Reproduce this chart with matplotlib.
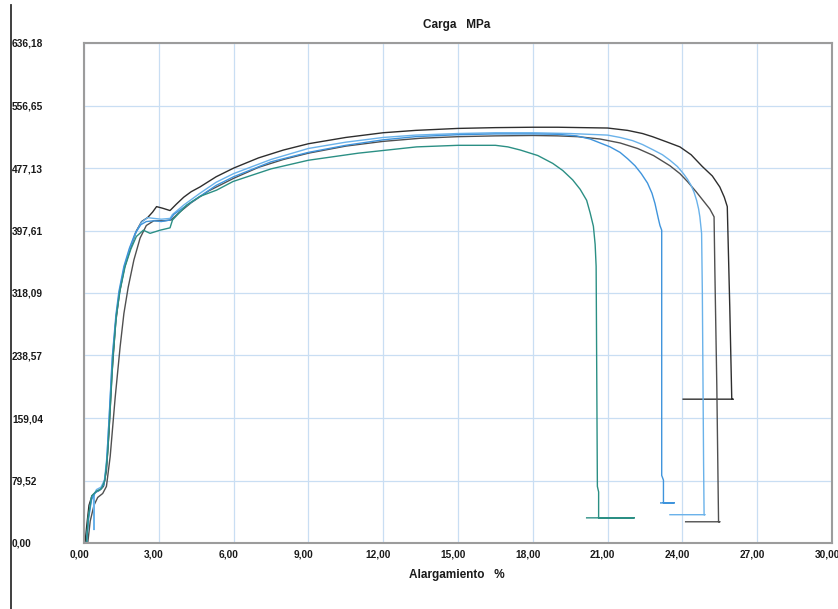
import matplotlib
matplotlib.use("Agg")
import matplotlib.pyplot as plt
from matplotlib.lines import Line2D
from matplotlib.transforms import ScaledTranslation

plt.rcParams['font.family'] = ['Liberation Sans', 'DejaVu Sans']

# Tensile test curves: elongation (%) vs. stress (MPa)
a_strain = [0.04, 0.12, 0.20, 0.32, 0.48, 0.62, 0.78, 0.90, 1.00, 1.12, 1.27, 1.42, 1.62, 1.85, 2.10, 2.31,
            2.55, 2.75, 2.91, 3.15, 3.45, 3.70, 4.00, 4.30, 4.65, 5.30, 6.00, 7.00, 8.00, 9.00, 10.5, 12.0,
            13.3, 15.0, 16.5, 18.0, 19.0, 20.0, 21.0, 21.8, 22.4, 22.8, 23.4, 23.9, 24.35, 24.8, 25.2,
            25.5, 25.68, 25.8, 25.9, 25.98, 26.03, 24.03]
a_stress = [0, 25, 48, 60, 65, 67, 72, 92, 140, 215, 280, 318, 350, 374, 397, 409,
            414, 421, 428, 426, 423, 431, 440, 447, 453, 466, 477, 490, 500, 508, 516, 522,
            525, 527.5, 528.5, 529, 529, 528.5, 528, 525, 521, 517, 510, 504, 494, 479, 467,
            453, 440, 428, 300, 183, 183, 183]

b_strain = [0.15, 0.25, 0.40, 0.55, 0.75, 0.90, 1.05, 1.25, 1.45, 1.60, 1.77, 2.00, 2.25, 2.50, 2.80, 3.20,
            3.50, 3.80, 4.30, 5.00, 6.00, 7.00, 8.00, 9.00, 10.5, 12.0, 13.5, 15.0, 16.5, 18.0, 19.0,
            19.8, 20.7, 21.5, 22.2, 22.84, 23.5, 23.9, 24.2, 24.55, 24.85, 25.1, 25.27, 25.3, 25.38,
            25.45, 25.5, 24.13]
b_stress = [0, 28, 48, 58, 63, 72, 110, 185, 250, 292, 325, 360, 388, 404, 410, 410,
            411, 420, 433, 448, 464, 478, 488, 496, 505, 511, 515, 517, 518, 518.5, 518,
            517, 514, 509, 502, 493, 480, 470, 460, 447, 435, 425, 415, 350, 200,
            27, 27, 27]

c_strain = [0.10, 0.18, 0.30, 0.38, 0.40, 0.41, 0.50, 0.68, 0.82, 0.92, 1.02, 1.15, 1.30, 1.42, 1.62, 1.85,
            2.08, 2.30, 2.55, 2.80, 3.10, 3.45, 3.55, 4.00, 4.65, 5.30, 6.00, 7.50, 9.00, 10.5, 12.0,
            13.3, 15.0, 16.5, 18.0, 19.5, 21.0, 21.5, 22.0, 22.4, 22.84, 23.2, 23.5, 23.8, 24.04, 24.2,
            24.35, 24.47, 24.57, 24.65, 24.70, 24.77, 24.80, 24.85, 24.87, 24.90, 23.50]
c_stress = [0, 32, 58, 62, 17, 62, 68, 71, 80, 110, 165, 240, 292, 320, 352, 376,
            395, 408, 414, 413, 412, 413, 418, 430, 445, 459, 470, 488, 502, 510, 516,
            519, 521, 522, 522, 521, 519, 516, 512, 507, 500, 494, 487, 479, 470, 463,
            455, 446, 436, 425, 415, 394, 318, 100, 36, 36, 36]

d_strain = [0.10, 0.18, 0.30, 0.45, 0.65, 0.80, 0.90, 1.00, 1.13, 1.28, 1.40, 1.60, 1.82, 2.05, 2.28, 2.50,
            2.80, 3.10, 3.45, 3.60, 4.00, 4.65, 5.30, 6.00, 7.50, 9.00, 10.5, 12.0, 13.3, 15.0, 16.5,
            18.0, 19.0, 19.76, 20.3, 20.7, 21.1, 21.5, 21.8, 22.1, 22.35, 22.6, 22.78, 22.9, 23.04,
            23.10, 23.17, 23.17, 23.24, 23.24, 23.67, 23.13]
d_stress = [0, 30, 55, 64, 68, 74, 98, 155, 235, 290, 320, 352, 375, 394, 405, 409,
            410, 409, 411, 418, 427, 441, 455, 466, 485, 497, 506, 513, 517, 519.5, 520.5,
            520.5, 520, 518, 514, 509, 504, 497, 489, 480, 470, 458, 445, 432, 412,
            404, 398, 86, 80, 51, 51, 51]

e_strain = [0.10, 0.17, 0.31, 0.50, 0.70, 0.84, 0.95, 1.05, 1.17, 1.30, 1.45, 1.65, 1.88, 2.10, 2.38, 2.65,
            3.05, 3.45, 3.55, 4.12, 4.65, 5.32, 5.98, 7.50, 9.00, 11.0, 13.34, 15.0, 16.5, 17.0, 17.5,
            18.2, 18.8, 19.2, 19.6, 19.9, 20.16, 20.3, 20.43, 20.5, 20.54, 20.59, 20.64, 20.64, 22.07,
            20.16]
e_stress = [0, 33, 60, 66, 69, 80, 115, 170, 240, 290, 322, 352, 374, 390, 398, 394,
            398, 401, 411, 430, 441, 449, 460, 476, 487, 496, 504, 506, 506, 504, 500,
            493, 483, 474, 462, 450, 436, 420, 403, 380, 352, 72, 65, 32, 32,
            32]

series = [
    (a_strain, a_stress, '#2e2e2e'),
    (b_strain, b_stress, '#505050'),
    (c_strain, c_stress, '#6ab2ea'),
    (d_strain, d_stress, '#3f94dc'),
    (e_strain, e_stress, '#2b8f84'),
]

x_ticks = [0, 3, 6, 9, 12, 15, 18, 21, 24, 27, 30]
x_labels = ['0,00', '3,00', '6,00', '9,00', '12,00', '15,00', '18,00', '21,00', '24,00', '27,00', '30,00']
y_ticks = [0.0, 79.52, 159.04, 238.57, 318.09, 397.61, 477.13, 556.65, 636.18]
y_labels = ['0,00', '79,52', '159,04', '238,57', '318,09', '397,61', '477,13', '556,65', '636,18']

W, H = 838, 609
fig = plt.figure(figsize=(W / 100, H / 100), dpi=100)
ax = fig.add_axes([84 / W, 1 - 543 / H, (832 - 84) / W, (543 - 43) / H])

for xs, ys, col in series:
    ax.plot(xs, ys, color=col, lw=1.0, solid_joinstyle='round')

ax.set_xlim(0, 30)
ax.set_ylim(0, 636.18)
ax.set_xticks(x_ticks, x_labels)
ax.set_yticks(y_ticks, y_labels)
ax.grid(True, color='#c9def3', lw=0.9)
ax.set_axisbelow(True)
for sp in ax.spines.values():
    sp.set_color('#9c9c9c')
    sp.set_linewidth(1.5)

ax.tick_params(axis='both', length=0, labelsize=7.3, colors='#1a1a1a')
ax.tick_params(axis='y', pad=72 * 0.72)
for lab in ax.get_yticklabels():
    lab.set_horizontalalignment('left')
    lab.set_fontweight('bold')
ax.tick_params(axis='x', pad=5)
shift = ScaledTranslation(-5 / 100, 0, fig.dpi_scale_trans)
for lab in ax.get_xticklabels():
    lab.set_fontweight('bold')
    lab.set_transform(lab.get_transform() + shift)

fig.text(457 / W, 1 - 25 / H, 'Carga   MPa', ha='center', va='center',
         fontsize=8.5, fontweight='bold', color='#1a1a1a')
fig.text(457 / W, 1 - 575 / H, 'Alargamiento   %', ha='center', va='center',
         fontsize=8.5, fontweight='bold', color='#1a1a1a')

fig.add_artist(Line2D([11 / W, 11 / W], [0, 1 - 5 / H], transform=fig.transFigure,
                      color='#303030', lw=1.3))

fig.savefig('out.png', dpi=100)
